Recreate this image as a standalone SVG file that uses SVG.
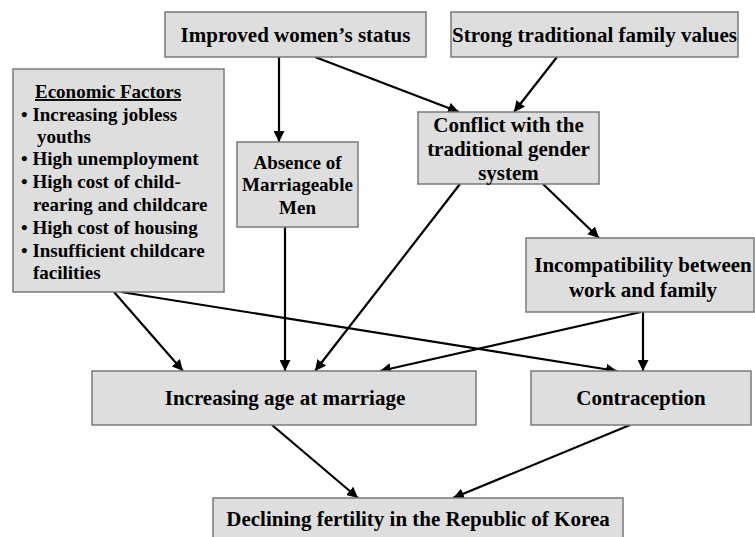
<svg xmlns="http://www.w3.org/2000/svg" width="755" height="537" viewBox="0 0 755 537">
<style>
.box{fill:#dedede;stroke:#7a7a7a;stroke-width:1.5}
.t{font-family:"Liberation Serif","Times New Roman",serif;font-weight:bold;fill:#000}
.c{text-anchor:middle;font-size:21px}
.s{font-size:19px}
.sc{text-anchor:middle;font-size:19px}
.ln{stroke:#000;stroke-width:2.2;fill:none;marker-end:url(#ah)}
</style>
<defs>
<marker id="ah" viewBox="0 0 10 10" refX="10" refY="5" markerWidth="5" markerHeight="5" markerUnits="strokeWidth" orient="auto">
<path d="M0,0 L10,5 L0,10 z" fill="#000"/>
</marker>
</defs>
<rect width="755" height="537" fill="#fff"/>
<g id="connectors">
<line class="ln" x1="279" y1="57" x2="279" y2="142"/>
<line class="ln" x1="315" y1="57" x2="459" y2="112"/>
<line class="ln" x1="557" y1="57" x2="514" y2="112"/>
<line class="ln" x1="543" y1="184" x2="599" y2="238"/>
<line class="ln" x1="460" y1="184" x2="315" y2="371"/>
<line class="ln" x1="285" y1="227" x2="285" y2="371"/>
<line class="ln" x1="114" y1="292" x2="183" y2="371"/>
<line class="ln" x1="121" y1="292" x2="617" y2="371"/>
<line class="ln" x1="643" y1="312" x2="643" y2="371"/>
<line class="ln" x1="641" y1="312" x2="380" y2="371"/>
<line class="ln" x1="272" y1="425" x2="358" y2="498"/>
<line class="ln" x1="630" y1="425" x2="453" y2="498"/>
</g>
<g id="improved">
<rect class="box" x="165" y="12" width="261" height="45"/>
<text class="t c" x="295.5" y="42">Improved women’s status</text>
</g>
<g id="strong">
<rect class="box" x="451" y="12" width="287" height="45"/>
<text class="t c" x="594.5" y="42">Strong traditional family values</text>
</g>
<g id="economic">
<rect class="box" x="13" y="69" width="211" height="223"/>
<text class="t s" x="35" y="98" text-decoration="underline">Economic Factors</text>
<text class="t s" x="21" y="121">• Increasing jobless</text>
<text class="t s" x="37" y="143">youths</text>
<text class="t s" x="21" y="165">• High unemployment</text>
<text class="t s" x="21" y="188">• High cost of child-</text>
<text class="t s" x="33" y="211">rearing and childcare</text>
<text class="t s" x="21" y="234">• High cost of housing</text>
<text class="t s" x="21" y="257">• Insufficient childcare</text>
<text class="t s" x="33" y="279">facilities</text>
</g>
<g id="absence">
<rect class="box" x="237" y="142" width="121" height="85"/>
<text class="t sc" x="297.5" y="169">Absence of</text>
<text class="t sc" x="297.5" y="191">Marriageable</text>
<text class="t sc" x="297.5" y="214">Men</text>
</g>
<g id="conflict">
<rect class="box" x="418" y="112" width="181" height="72"/>
<text class="t c" x="508.5" y="132">Conflict with the</text>
<text class="t c" x="508.5" y="156">traditional gender</text>
<text class="t c" x="508.5" y="180">system</text>
</g>
<g id="incompat">
<rect class="box" x="526" y="238" width="228" height="74"/>
<text class="t c" x="643" y="272">Incompatibility between</text>
<text class="t c" x="643" y="297">work and family</text>
</g>
<g id="increasing">
<rect class="box" x="92" y="371" width="384" height="54"/>
<text class="t c" x="285" y="405">Increasing age at marriage</text>
</g>
<g id="contraception">
<rect class="box" x="531" y="371" width="220" height="54"/>
<text class="t c" x="641" y="405">Contraception</text>
</g>
<g id="declining">
<rect class="box" x="213" y="498" width="410" height="50"/>
<text class="t c" x="418" y="526">Declining fertility in the Republic of Korea</text>
</g>
</svg>
